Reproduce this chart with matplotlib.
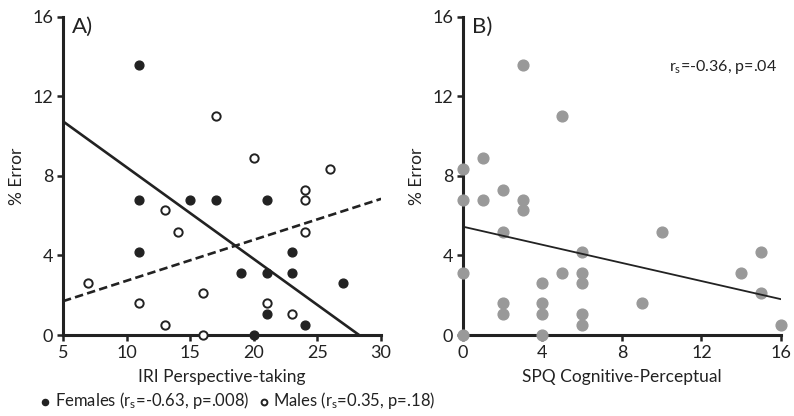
import numpy as np
import matplotlib.pyplot as plt

plt.rcParams['font.family'] = ['Lato', 'DejaVu Sans']
plt.rcParams['mathtext.fontset'] = 'custom'
plt.rcParams['mathtext.rm'] = 'Lato'
plt.rcParams['mathtext.it'] = 'Lato'

# panel A: IRI perspective-taking vs % error
fem_x = [11, 11, 11, 15, 17, 21, 19, 21, 23, 23, 27, 21, 24, 20]
fem_y = [13.6, 6.8, 4.2, 6.8, 6.8, 6.8, 3.1, 3.1, 3.1, 4.2, 2.6, 1.05, 0.5, 0]
male_x = [17, 20, 26, 24, 24, 13, 14, 24, 7, 16, 11, 21, 23, 13, 16]
male_y = [11.0, 8.9, 8.35, 7.3, 6.8, 6.3, 5.2, 5.2, 2.6, 2.1, 1.6, 1.6, 1.05, 0.5, 0]
fem_fit = (-0.462, 13.06)   # slope, intercept
male_fit = (0.206, 0.67)

# panel B: SPQ cognitive-perceptual vs % error
spq_x = [3, 5, 1, 0, 2, 0, 1, 3, 3, 2, 10, 6, 15, 0, 5, 6, 14,
         4, 6, 15, 2, 4, 9, 2, 4, 6, 6, 16, 0, 4]
spq_y = [13.6, 11.0, 8.9, 8.35, 7.3, 6.8, 6.8, 6.8, 6.3, 5.2, 5.2, 4.2, 4.2,
         3.1, 3.1, 3.1, 3.1, 2.6, 2.6, 2.1, 1.6, 1.6, 1.6, 1.05, 1.05, 1.05,
         0.5, 0.5, 0, 0]
spq_fit = (-0.228, 5.45)

ink = '#222222'
fig = plt.figure(figsize=(7.94, 4.16), dpi=100)
ax1 = fig.add_axes([0.0793, 0.1947, 0.4007, 0.7645])
ax2 = fig.add_axes([0.5831, 0.1947, 0.4005, 0.7645])

for ax in (ax1, ax2):
    for s in ('top', 'right'):
        ax.spines[s].set_visible(False)
    for s in ('left', 'bottom'):
        ax.spines[s].set_linewidth(2.2)
        ax.spines[s].set_color(ink)
    ax.tick_params(width=1.8, length=4, color=ink, labelsize=13,
                   labelcolor=ink, pad=3)
    ax.set_ylim(0, 16)
    ax.set_yticks([0, 4, 8, 12, 16])
    ax.set_ylabel('% Error', fontsize=12.5, color=ink, labelpad=5)

# A
ax1.set_xlim(5, 30)
ax1.set_xticks([5, 10, 15, 20, 25, 30])
f = ax1.scatter(fem_x, fem_y, s=40, color=ink, zorder=3, clip_on=False,
                label=r'Females ($\mathregular{r_s}$=-0.63, p=.008)')
m = ax1.scatter(male_x, male_y, s=36, facecolor='white', edgecolor=ink,
                linewidth=1.4, zorder=3, clip_on=False,
                label=r'Males ($\mathregular{r_s}$=0.35, p=.18)')
xf = np.array([5, -fem_fit[1] / fem_fit[0]])
ax1.plot(xf, fem_fit[0] * xf + fem_fit[1], color=ink, lw=1.9, zorder=2)
xm = np.array([5, 30])
ax1.plot(xm, male_fit[0] * xm + male_fit[1], color=ink, lw=1.9,
         ls=(0, (3.2, 1.6)), zorder=2)
ax1.set_xlabel('IRI Perspective-taking', fontsize=12.5, color=ink, labelpad=6)
ax1.text(0.028, 1.0, 'A)', transform=ax1.transAxes, fontsize=16,
         color=ink, va='top', ha='left')
fig.legend(handles=[f, m], loc='lower left', bbox_to_anchor=(0.03, -0.025),
           ncol=2, frameon=False, fontsize=12, markerscale=0.7,
           handletextpad=0.15, columnspacing=0.5, handlelength=0.8,
           labelcolor=ink)

# B
ax2.set_xlim(0, 16)
ax2.set_xticks([0, 4, 8, 12, 16])
ax2.scatter(spq_x, spq_y, s=60, color='#999999', zorder=3, clip_on=False)
xs = np.array([0, 16])
ax2.plot(xs, spq_fit[0] * xs + spq_fit[1], color=ink, lw=1.3, zorder=4)
ax2.set_xlabel('SPQ Cognitive-Perceptual', fontsize=12.5, color=ink, labelpad=6)
ax2.text(0.028, 1.0, 'B)', transform=ax2.transAxes, fontsize=16,
         color=ink, va='top', ha='left')
ax2.text(15.8, 13.5, r'$\mathregular{r_s}$=-0.36, p=.04', fontsize=11.5,
         color=ink, ha='right', va='center')

fig.savefig('out.png', dpi=100)
